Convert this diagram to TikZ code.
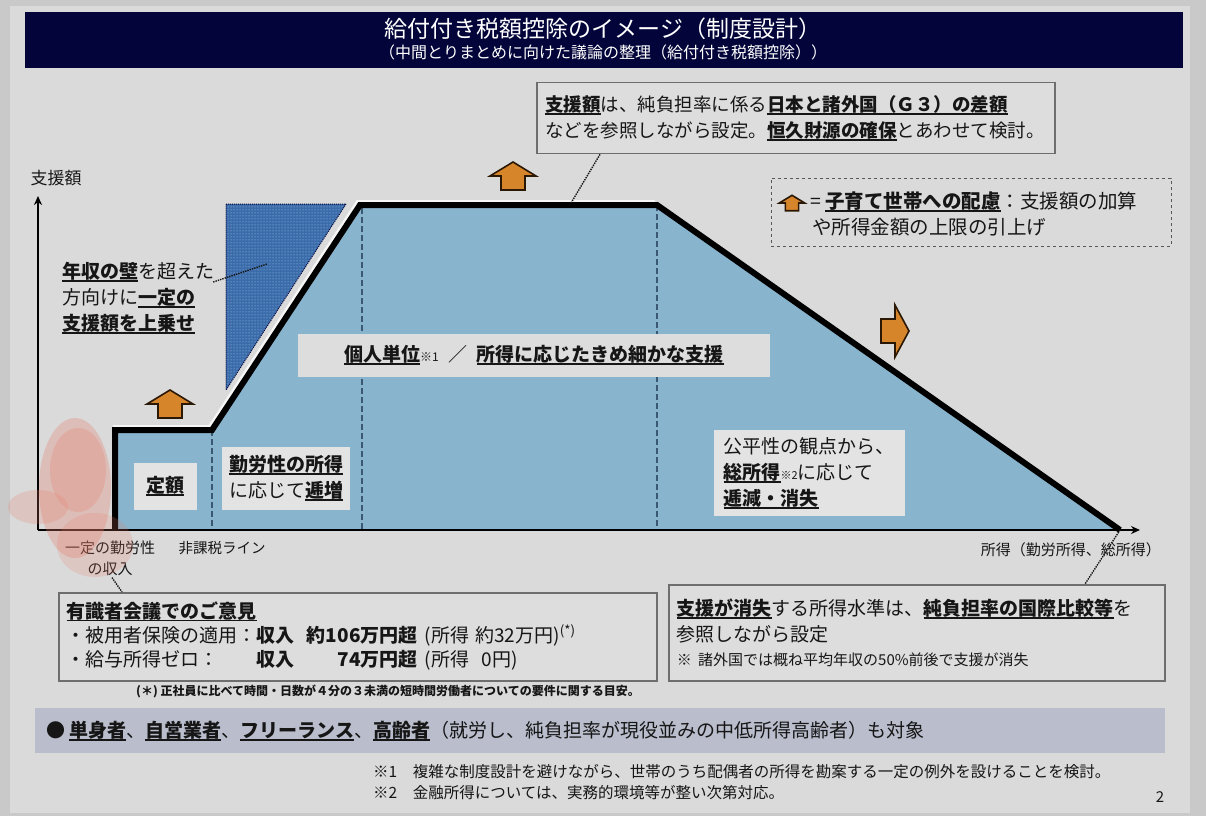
\documentclass[tikz,border=0pt]{standalone}
\usepackage{fontspec}
\setmainfont{Noto Sans CJK JP}
\usetikzlibrary{arrows.meta,positioning,patterns}
\definecolor{pagebg}{HTML}{C9C9C9}
\definecolor{slidebg}{HTML}{DADADA}
\definecolor{navy}{HTML}{03053A}
\definecolor{areablue}{HTML}{88B4CD}
\definecolor{wallblue}{HTML}{3A6CAC}
\definecolor{boost}{HTML}{D7852A}
\definecolor{boostedge}{HTML}{2A1804}
\definecolor{boxgray}{HTML}{DDDDDD}
\definecolor{tagfill}{HTML}{E3E3E3}
\definecolor{edgegray}{HTML}{6E6E6E}
\definecolor{bandgray}{HTML}{B9BDCC}
\definecolor{ink}{HTML}{161616}
\definecolor{dividerblue}{HTML}{3B5873}
\definecolor{smudge}{HTML}{E57C68}
\newcommand{\bul}[1]{\setbox0=\hbox{\bfseries #1}\rlap{\rule[-0.17em]{\wd0}{0.08em}}\box0}
\tikzset{
  titletext/.style={text=white, inner sep=0pt, font=\fontsize{23}{28}\selectfont},
  subtitletext/.style={text=white, inner sep=0pt, font=\fontsize{16}{20}\selectfont},
  body/.style={text=ink, inner sep=0pt, align=left, font=\fontsize{19}{26}\selectfont},
  smalltext/.style={text=ink, inner sep=0pt, align=center, font=\fontsize{15}{20}\selectfont},
  panel/.style={draw=edgegray, line width=1.8pt, fill=boxgray, text=ink, align=left,
    inner xsep=8pt, inner ysep=0pt, font=\fontsize{19}{26}\selectfont},
  tagbox/.style={fill=tagfill, text=ink, align=left, inner xsep=9pt, inner ysep=6pt,
    font=\fontsize{19}{26}\selectfont},
  legendbox/.style={draw=edgegray!80!black, dashed, line width=1pt},
  boostshape/.style={draw=boostedge, fill=boost, line width=1.6pt, line join=miter},
  boostup/.pic={\draw[boostshape] (-12,14) -- (-12,0) -- (-23,0) -- (0,-14) -- (23,0) -- (12,0) -- (12,14) -- cycle;},
  boostright/.pic={\draw[boostshape] (-14,-12) -- (0,-12) -- (0,-26) -- (14,0) -- (0,26) -- (0,12) -- (-14,12) -- cycle;},
  curve/.style={line width=6pt, draw=black, line join=miter},
  divider/.style={dashed, dash pattern=on 6pt off 3pt, line width=1.3pt, draw=dividerblue},
  axis/.style={-{Stealth[length=9pt, width=8pt]}, line width=2pt, draw=black},
  leader/.style={densely dotted, line width=1.4pt, draw=ink}
}
\begin{document}
\begin{tikzpicture}[x=1pt, y=-1pt]
  \useasboundingbox (0,0) rectangle (1206,816);
  \fill[pagebg] (0,0) rectangle (1206,816);
  \fill[slidebg] (10,6) rectangle (1190,813);
  % title band
  \fill[navy] (25,12) rectangle (1183,68);
  \node[titletext] (title) at (603,29) {給付付き税額控除のイメージ（制度設計）};
  \node[subtitletext] (subtitle) at (603,52) {（中間とりまとめに向けた議論の整理（給付付き税額控除））};

  % support schedule
  \coordinate (O) at (38,530);
  \coordinate (stepfoot) at (115,530);
  \coordinate (stepknee) at (115,430);
  \coordinate (taxline) at (212,430);
  \coordinate (plateauL) at (360,205);
  \coordinate (plateauR) at (657,205);
  \coordinate (vanish) at (1120,530);
  \fill[areablue] (stepfoot) -- (stepknee) -- (taxline) -- (plateauL) -- (plateauR) -- (vanish) -- cycle;
  \draw[divider] (taxline) -- (taxline |- O);
  \draw[divider] (362,208) -- (362,530);
  \draw[divider] (plateauR) -- (plateauR |- O);

  % wall top-up
  \fill[wallblue] (226,204) -- (346,204) -- (226,390) -- cycle;
  \fill[pattern=dots, pattern color=wallblue!35!white] (226,204) -- (346,204) -- (226,390) -- cycle;
  \draw[densely dotted, line width=1pt, draw=navy] (226,204) -- (346,204) -- (226,390) -- cycle;

  \draw[curve, white!75!slidebg, transform canvas={shift={(-1.8pt,1.8pt)}}]
    (stepknee) -- (taxline) -- (plateauL) -- (plateauR);
  \draw[curve] (stepfoot) -- (stepknee) -- (taxline) -- (plateauL) -- (plateauR) -- (vanish);

  % axes
  \draw[axis] (O) -- (38,196) coordinate (ytip);
  \draw[axis] (O) -- (1140,530) coordinate (xtip);
  \node[smalltext, font=\fontsize{17}{20}\selectfont] (ylab) at (56,178) {支援額};
  \node[smalltext, anchor=east] (xlab) at (1161,550) {所得（勤労所得、総所得）};
  \node[smalltext, font=\fontsize{15}{21}\selectfont] (worklab) at (110,558) {一定の勤労性\\の収入};
  \node[smalltext, font=\fontsize{14.5}{20}\selectfont] (taxlab) at (222,548) {非課税ライン};

  % labels on the chart
  \node[body] (wallnote) at (138,298) {\bul{年収の壁}を超えた\\方向けに\bul{一定の}\\\bul{支援額を上乗せ}};
  \coordinate (wallpin) at (267,264);
  \draw[leader] (wallnote.north east) ++(-1,20) -- (wallpin);

  \node[tagbox, minimum width=472pt, minimum height=43pt, align=center, fill=boxgray] (banner) at (534,355)
    {\bul{個人単位}{\fontsize{12}{12}\selectfont ※1}\enspace ／\enspace\bul{所得に応じたきめ細かな支援}};
  \node[tagbox, minimum width=63pt, minimum height=47pt, align=center] (flat) at (165,486) {\bul{定額}};
  \node[tagbox, minimum height=63pt, inner xsep=7pt] (phasein) at (286,478) {\bul{勤労性の所得}\\に応じて\bul{逓増}};
  \node[tagbox, minimum height=86pt, inner xsep=10pt] (phaseout) at (809,473)
    {公平性の観点から、\\\bul{総所得}{\fontsize{11}{11}\selectfont ※2}に応じて\\\bul{逓減・消失}};

  % boost arrows
  \pic (boostflat) at (170,404) {boostup};
  \pic (boostpeak) at (513,176) {boostup};
  \pic (boostend) at (895,331) {boostright};

  % top callout
  \node[panel, text width=502pt, minimum height=71pt, font=\fontsize{18.5}{26}\selectfont] (callout) at (796,118)
    {\bul{支援額}は、純負担率に係る\bul{日本と諸外国（Ｇ３）の差額}\\などを参照しながら設定。\bul{恒久財源の確保}とあわせて検討。};
  \coordinate (plateaupin) at (571,203);
  \draw[leader] (plateaupin) -- (callout.south -| 600,0);

  % legend
  \node[legendbox, minimum width=400pt, minimum height=68pt] (legend) at (971,212) {};
  \pic[scale=0.55] (legendarrow) at (792,203) {boostup};
  \node[body, anchor=west, font=\fontsize{19.5}{26}\selectfont] (legendtext) at (810,214)
    {= \bul{子育て世帯への配慮}：支援額の加算\\\hspace*{0.1em}や所得金額の上限の引上げ};

  % bottom panels
  \node[panel, anchor=north west, minimum width=598pt, minimum height=88pt, text width=582pt] (opinions) at (58,592)
    {\begin{tabular}{@{}l@{}l@{\hspace{12pt}}r@{\hspace{7pt}}l@{}}
      \multicolumn{4}{@{}l}{\bul{有識者会議でのご意見}}\\[-2pt]
      ・被用者保険の適用： & \textbf{収入} & \textbf{約106万円超} & (所得\ 約32万円)\textsuperscript{(*)}\\[-2pt]
      ・給与所得ゼロ： & \textbf{収入} & \textbf{74万円超} & (所得\ \ 0円)
    \end{tabular}};
  \node[smalltext, font=\bfseries\fontsize{12}{14}\selectfont] (opnote) at (388,691)
    {(＊) 正社員に比べて時間・日数が４分の３未満の短時間労働者についての要件に関する目安。};
  \draw[leader] (worklab.south) ++(2,2) -- (opinions.north west -| 122,0);

  \node[panel, anchor=north west, minimum width=496pt, minimum height=96pt, text width=480pt] (vanishbox) at (668,584)
    {\bul{支援が消失}する所得水準は、\bul{純負担率の国際比較等}を\\参照しながら設定\\[-2pt]
     {\fontsize{15}{20}\selectfont ※ 諸外国では概ね平均年収の50\%前後で支援が消失}};
  \draw[leader] (vanish) -- (vanishbox.north -| 1085,0);

  % target band
  \fill[bandgray] (35,708) rectangle (1165,753);
  \node[body, anchor=west] (target) at (46,731)
    {● \bul{単身者}、\bul{自営業者}、\bul{フリーランス}、\bul{高齢者}（就労し、純負担率が現役並みの中低所得高齢者）も対象};

  % footnotes
  \node[body, anchor=west, font=\fontsize{15.5}{20}\selectfont] (note1) at (373,772)
    {※1\quad 複雑な制度設計を避けながら、世帯のうち配偶者の所得を勘案する一定の例外を設けることを検討。};
  \node[body, anchor=west, font=\fontsize{15.5}{20}\selectfont] (note2) at (373,793)
    {※2\quad 金融所得については、実務的環境等が整い次第対応。};
  \node[body, font=\fontsize{15}{18}\selectfont] (pagenum) at (1160,797) {2};

  % red smudge
  \fill[smudge, opacity=.3] (75,488) ellipse [x radius=36, y radius=70];
  \fill[smudge, opacity=.25] (78,470) ellipse [x radius=28, y radius=42];
  \fill[smudge, opacity=.22] (38,507) ellipse [x radius=30, y radius=17];
  \fill[smudge, opacity=.2] (95,545) ellipse [x radius=38, y radius=32];
\end{tikzpicture}
\end{document}
